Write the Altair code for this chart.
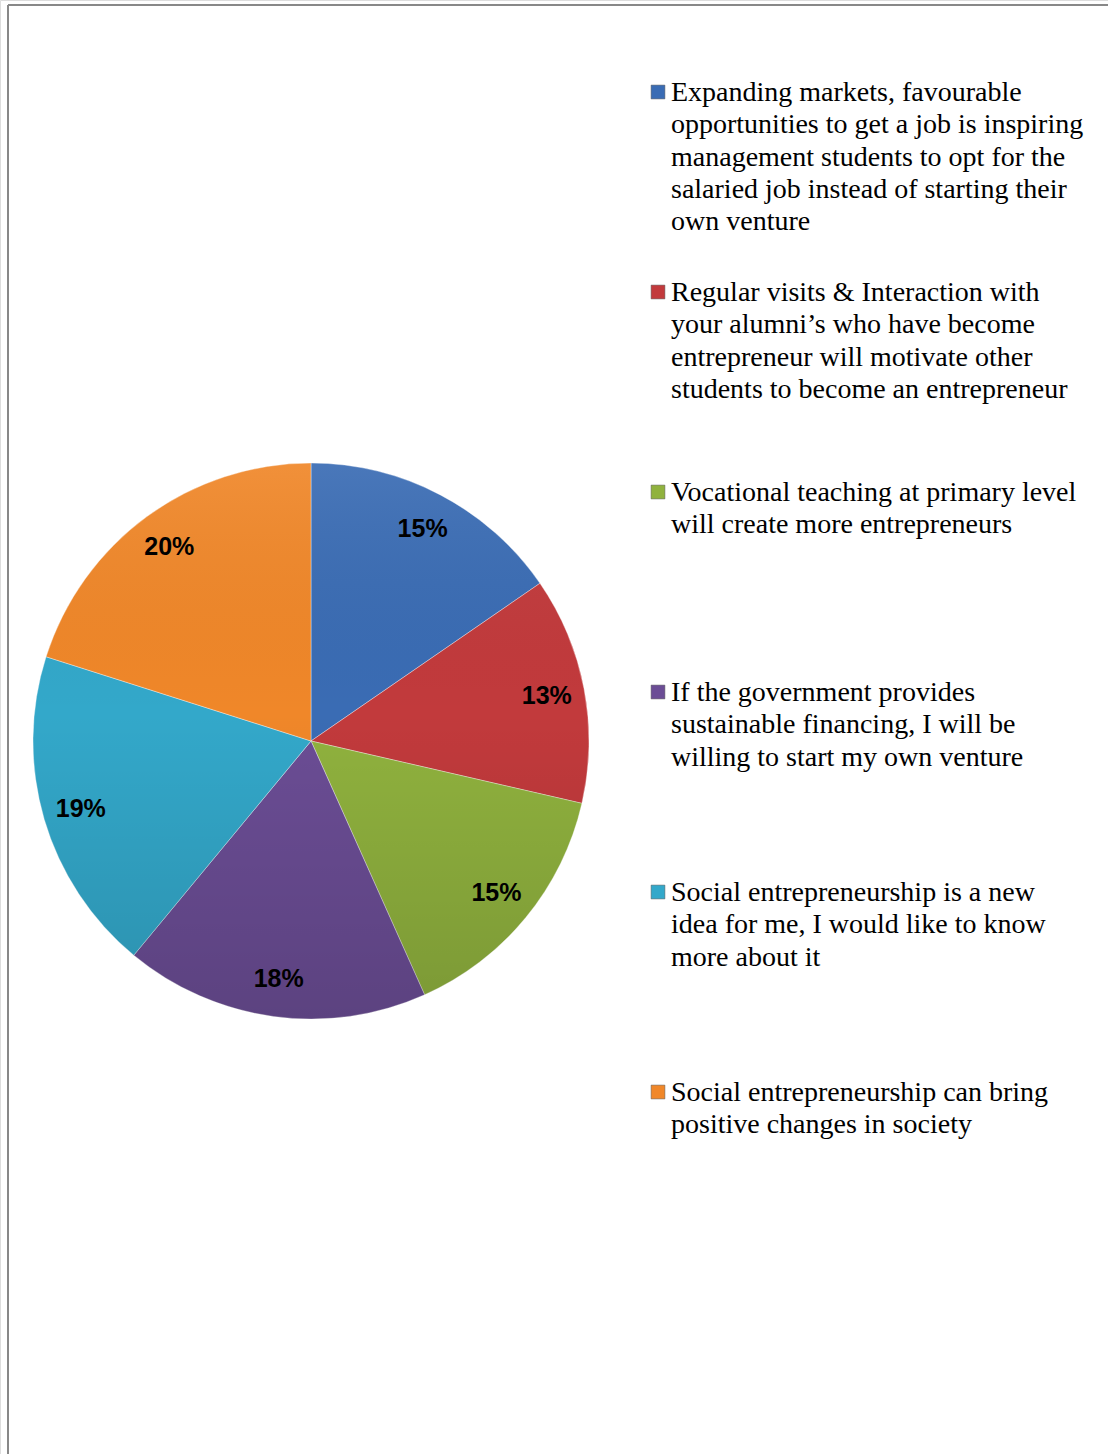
import altair as alt
import pandas as pd

categories = [
    "Expanding markets, favourable\nopportunities to get a job is inspiring\nmanagement students to opt for the\nsalaried job instead of starting their\nown venture",
    "Regular visits & Interaction with\nyour alumni\u2019s who have become\nentrepreneur will motivate other\nstudents to become an entrepreneur",
    "Vocational teaching at primary level\nwill create more entrepreneurs",
    "If the government provides\nsustainable financing, I will be\nwilling to start my own venture",
    "Social entrepreneurship is a new\nidea for me, I would like to know\nmore about it",
    "Social entrepreneurship can bring\npositive changes in society",
]
values = [15.4, 13.2, 14.7, 17.7, 18.9, 20.1]
pct_labels = ["15%", "13%", "15%", "18%", "19%", "20%"]
colors = ["#3a6cb4", "#c23a3c", "#90b23e", "#6b4d95", "#33a8ca", "#f08729"]

df = pd.DataFrame({
    "cat": categories,
    "value": values,
    "pct": pct_labels,
    "order": list(range(len(categories))),
})

color = alt.Color("cat:N", scale=alt.Scale(domain=categories, range=colors), legend=None)
cx, cy = 311, 741

base = alt.Chart(df)

pie = base.mark_arc(outerRadius=278, stroke="#ffffff", strokeWidth=0.8, strokeOpacity=0.45).encode(
    theta=alt.Theta("value:Q", stack=True),
    order=alt.Order("order:Q"),
    color=color,
    x=alt.value(cx),
    y=alt.value(cy),
)

shade = alt.Chart(pd.DataFrame({"k": [0]})).mark_arc(
    outerRadius=278,
    fill=alt.Gradient(
        gradient="linear", x1=0, y1=0, x2=0, y2=1,
        stops=[alt.GradientStop(color="rgba(255,255,255,0.08)", offset=0),
               alt.GradientStop(color="rgba(0,0,0,0.0)", offset=0.45),
               alt.GradientStop(color="rgba(0,0,0,0.14)", offset=1)],
    ),
).encode(
    theta=alt.value(0), theta2=alt.value(6.2832),
    x=alt.value(cx), y=alt.value(cy),
)

pie_text = base.mark_text(radius=240, font="Liberation Sans", fontWeight="bold",
                          fontSize=25, color="#000000").encode(
    theta=alt.Theta("value:Q", stack=True),
    order=alt.Order("order:Q"),
    text="pct:N",
    x=alt.value(cx),
    y=alt.value(cy),
)

ypos = alt.Y("order:Q", scale=alt.Scale(domain=[0, 5], range=[92, 1092]), axis=None)

legend_sq = base.mark_square(size=190, opacity=1, stroke="#555555", strokeWidth=0.5).encode(
    x=alt.value(658),
    y=ypos,
    color=color,
)

legend_txt = base.mark_text(align="left", baseline="top", dy=-13, font="Liberation Serif",
                            fontSize=28, lineHeight=32.3, lineBreak="\n", color="#000000").encode(
    x=alt.value(671),
    y=ypos,
    text="cat:N",
)

border_left = alt.Chart(pd.DataFrame({"k": [0]})).mark_rule(color="#888888", strokeWidth=2).encode(
    x=alt.value(8), y=alt.value(5), y2=alt.value(1454)
)
border_top = alt.Chart(pd.DataFrame({"k": [0]})).mark_rule(color="#888888", strokeWidth=2).encode(
    x=alt.value(8), x2=alt.value(1108), y=alt.value(5)
)

chart = alt.layer(pie, shade, pie_text, legend_sq, legend_txt, border_left, border_top).properties(
    width=1108, height=1454, padding=0,
    autosize=alt.AutoSizeParams(type="none"),
).configure_view(stroke=None).configure(background="#ffffff")

chart.save("out.html", embed_options={"renderer": "svg", "actions": False})
